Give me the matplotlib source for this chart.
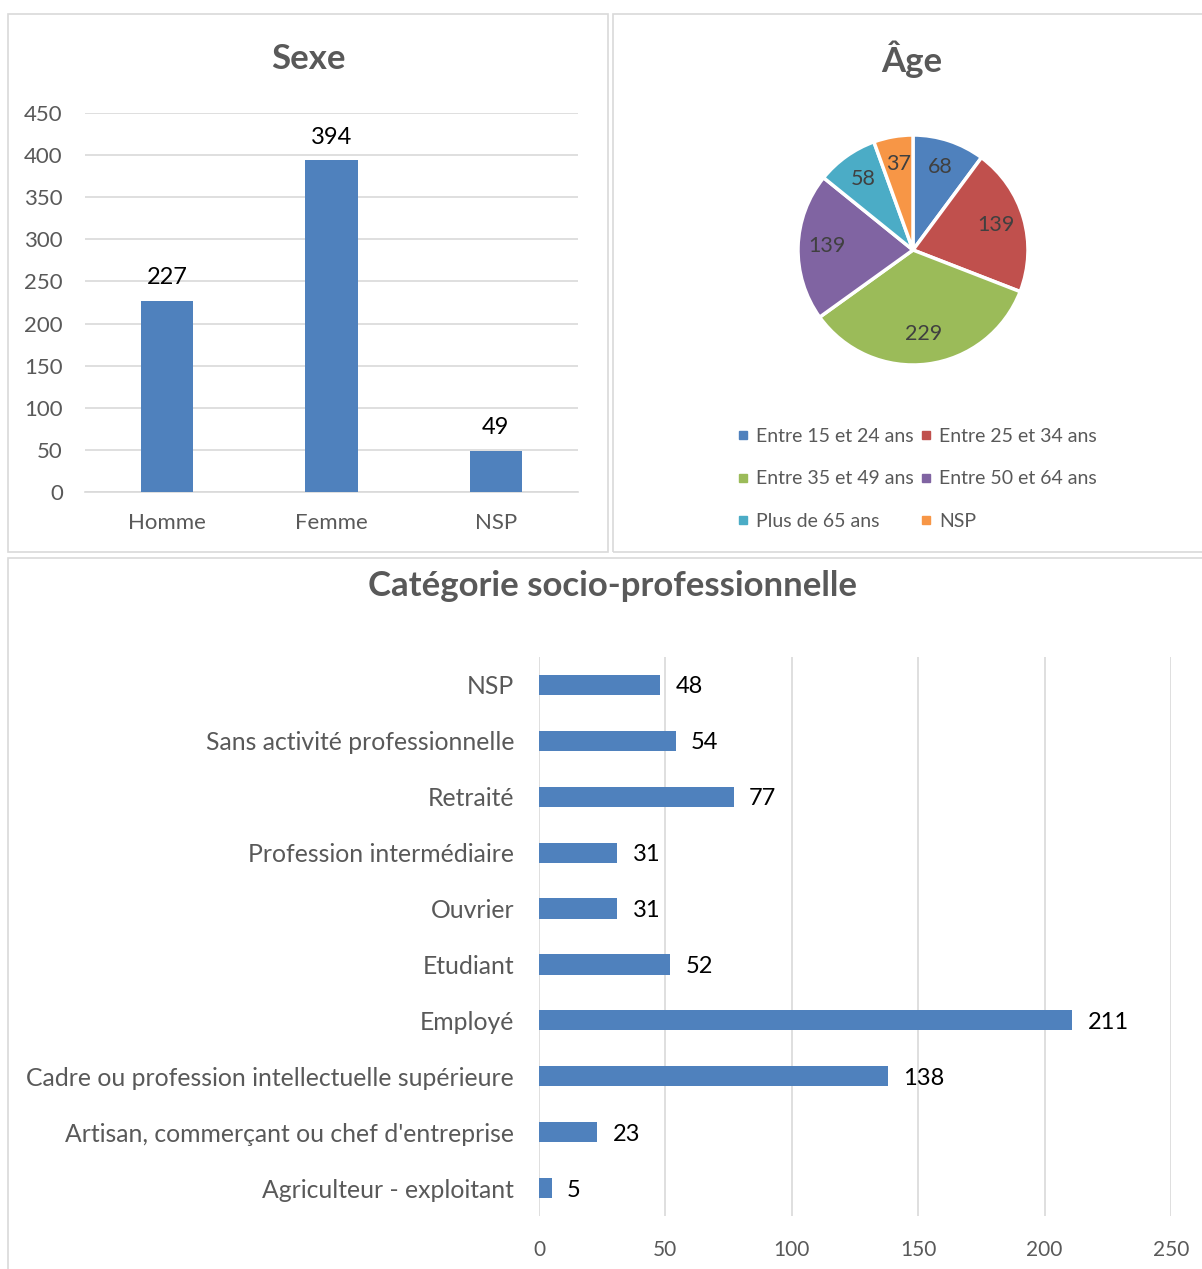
import numpy as np
import matplotlib
matplotlib.use("Agg")
import matplotlib.pyplot as plt
from matplotlib.patches import Rectangle
from matplotlib.lines import Line2D

plt.rcParams['font.family'] = ['Lato', 'DejaVu Sans']

# --- data ---
sexe_labels = ["Homme", "Femme", "NSP"]
sexe_values = [227, 394, 49]

age_labels = ["Entre 15 et 24 ans", "Entre 25 et 34 ans", "Entre 35 et 49 ans",
              "Entre 50 et 64 ans", "Plus de 65 ans", "NSP"]
age_values = [68, 139, 229, 139, 58, 37]
age_colors = ["#4F81BD", "#C0504D", "#9BBB59", "#8064A2", "#4BACC6", "#F79646"]

csp_labels = ["Agriculteur - exploitant", "Artisan, commerçant ou chef d'entreprise",
              "Cadre ou profession intellectuelle supérieure", "Employé", "Etudiant",
              "Ouvrier", "Profession intermédiaire", "Retraité",
              "Sans activité professionnelle", "NSP"]
csp_values = [5, 23, 138, 211, 52, 31, 31, 77, 54, 48]

BAR = "#4F81BD"
GRID = "#D9D9D9"
TXT = "#595959"

W, H = 1202, 1269
fig = plt.figure(figsize=(W / 100, H / 100), dpi=100)


def rect(x0, y0, x1, y1):
    return [x0 / W, 1 - y1 / H, (x1 - x0) / W, (y1 - y0) / H]


def px(x, y):
    return x / W, 1 - y / H


# panel frames
for (x0, y0, x1, y1) in [(8, 14, 608, 552), (613, 14, 1210, 552), (8, 558, 1210, 1280)]:
    fig.patches.append(Rectangle(px(x0, y1), (x1 - x0) / W, (y1 - y0) / H,
                                 transform=fig.transFigure, fill=False,
                                 edgecolor=GRID, linewidth=1.2))

# --- Sexe ---
ax1 = fig.add_axes(rect(85, 113, 578, 492))
b1 = ax1.bar(range(len(sexe_values)), sexe_values, width=0.32, color=BAR, zorder=3)
ax1.set_xlim(-0.5, 2.5)
ax1.set_ylim(0, 450)
ax1.set_yticks(range(0, 451, 50))
ax1.set_xticks(range(len(sexe_labels)))
ax1.set_xticklabels(sexe_labels)
ax1.grid(axis='y', color=GRID, linewidth=1.2, zorder=0)
for s in ["top", "right", "left"]:
    ax1.spines[s].set_visible(False)
ax1.spines["bottom"].set_color(GRID)
ax1.spines["bottom"].set_linewidth(1.2)
ax1.tick_params(length=0, labelsize=16, colors=TXT)
ax1.tick_params(axis='x', pad=15)
ax1.tick_params(axis='y', pad=16)
ax1.bar_label(b1, padding=9, fontsize=17, color="#000000")
fig.text(*px(308, 59), "Sexe", ha="center", va="center", fontsize=25,
         fontweight="bold", color=TXT)

# --- Âge ---
ax2 = fig.add_axes(rect(798, 135, 1028, 365))
wedges, _ = ax2.pie(age_values, colors=age_colors, startangle=90, counterclock=False,
                    radius=1, wedgeprops=dict(edgecolor="white", linewidth=2.5))
for w, v in zip(wedges, age_values):
    ang = np.deg2rad((w.theta1 + w.theta2) / 2)
    ax2.text(0.75 * np.cos(ang), 0.75 * np.sin(ang) + 0.01, str(v), ha="center",
             va="center", fontsize=15.5, color="#404040")
ax2.set_xlim(-1, 1)
ax2.set_ylim(-1, 1)
ax2.set_aspect("equal")
ax2.axis("off")
fig.text(*px(912, 59), "Âge", ha="center", va="center", fontsize=25,
         fontweight="bold", color=TXT)
# legend entries laid out row by row in two columns
order = [0, 2, 4, 1, 3, 5]
handles = [Line2D([], [], marker="s", linestyle="", markersize=6, color=age_colors[i])
           for i in order]
labels = [age_labels[i] for i in order]
leg = fig.legend(handles, labels, ncol=2, loc="center",
                 bbox_to_anchor=px(917, 479), frameon=False, fontsize=14,
                 labelcolor=TXT, handlelength=0.6, handletextpad=0.4,
                 columnspacing=0.3, labelspacing=1.32)

# --- Catégorie socio-professionnelle ---
ax3 = fig.add_axes(rect(539, 657, 1171, 1216))
b3 = ax3.barh(range(len(csp_values)), csp_values, height=0.36, color=BAR, zorder=3)
ax3.set_xlim(0, 250)
ax3.set_ylim(-0.5, len(csp_values) - 0.5)
ax3.set_xticks(range(0, 251, 50))
ax3.set_yticks(range(len(csp_labels)))
ax3.set_yticklabels(csp_labels)
ax3.grid(axis='x', color=GRID, linewidth=1.2, zorder=0)
for s in ["top", "right", "left", "bottom"]:
    ax3.spines[s].set_visible(False)
ax3.tick_params(length=0, labelsize=17.8, colors=TXT)
ax3.tick_params(axis='y', pad=18)
ax3.tick_params(axis='x', pad=17, labelsize=15)
for t in ax3.bar_label(b3, padding=11, fontsize=17, color="#000000"):
    t.set_va("center_baseline")
fig.text(*px(613, 586), "Catégorie socio-professionnelle", ha="center", va="center",
         fontsize=25, fontweight="bold", color=TXT)

fig.savefig("out.png", dpi=100, facecolor="white")
